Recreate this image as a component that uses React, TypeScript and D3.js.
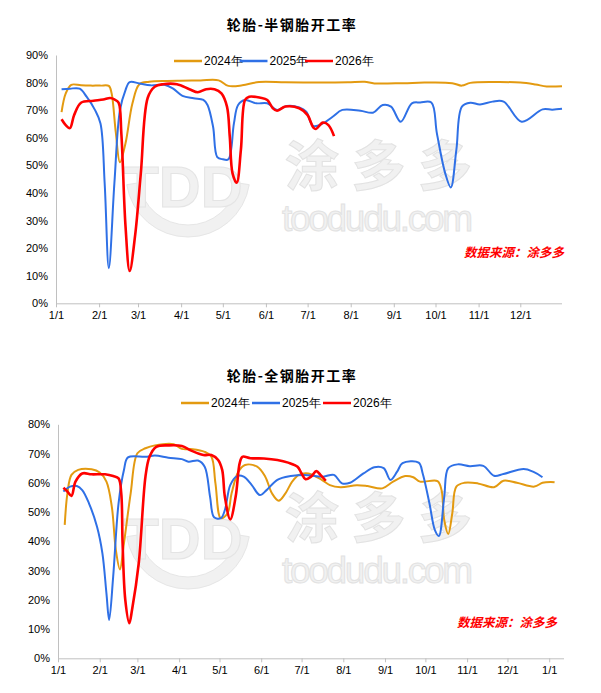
import * as d3 from "d3";
import { useEffect, useRef } from "react";

type Pt = [string, number];

const yearLabels = ["2024年", "2025年", "2026年"];
const lineColors = ["#E39A10", "#2F70E6", "#FF0000"];
const lineWidths = [2, 2, 2.6];

const monthTicks = ["1/1", "2/1", "3/1", "4/1", "5/1", "6/1", "7/1", "8/1", "9/1", "10/1", "11/1", "12/1"];
const monthTicksNextYear = [...monthTicks, "2026/1/1"];

// 半钢胎开工率 (%)
const semi2024: Pt[] = [
    ["1/5", 69.3], ["1/8", 76.1], ["1/12", 79.2], ["1/19", 79.0], ["1/26", 78.9], ["2/2", 78.9],
    ["2/8", 78.8], ["2/10", 76.1], ["2/13", 62], ["2/16", 51.1], ["2/20", 58], ["2/25", 72.5],
    ["3/2", 79.4], ["3/9", 80.3], ["3/22", 80.6], ["3/31", 80.7], ["4/15", 80.8], ["4/28", 80.8],
    ["5/5", 78.8], ["5/15", 79.0], ["5/27", 80.2], ["6/15", 80.1], ["7/10", 80.0], ["7/30", 80.1],
    ["8/11", 80.3], ["8/18", 79.7], ["9/8", 79.8], ["9/23", 80.0], ["10/13", 79.8], ["10/20", 78.9],
    ["10/26", 79.9], ["11/14", 80.2], ["12/1", 80.0], ["12/12", 79.3], ["12/20", 78.6], ["12/31", 78.7],
];
const semi2025: Pt[] = [
    ["1/5", 77.6], ["1/11", 77.8], ["1/18", 77.8], ["1/23", 74.9], ["1/29", 70.1], ["2/2", 65.2],
    ["2/5", 43.6], ["2/8", 12.7], ["2/12", 43.5], ["2/16", 70], ["2/20", 77.3], ["2/23", 80.2],
    ["3/2", 79.7], ["3/10", 79.0], ["3/20", 79.2], ["3/26", 77.9], ["4/2", 75.2], ["4/10", 74.3],
    ["4/17", 73.7], ["4/20", 71.9], ["4/24", 64], ["4/27", 53], ["5/1", 52.2], ["5/5", 52.2],
    ["5/9", 65.2], ["5/12", 71.9], ["5/17", 73.7], ["5/25", 72.5], ["6/2", 72.5], ["6/9", 70.1],
    ["6/16", 71.5], ["6/25", 71.0], ["6/30", 69.5], ["7/5", 64.3], ["7/12", 65.2], ["7/19", 67.6],
    ["7/26", 70.1], ["8/8", 69.8], ["8/17", 69.1], ["8/24", 71.9], ["8/30", 71.3], ["9/6", 65.8],
    ["9/14", 72.5], ["9/20", 72.8], ["9/28", 72.8], ["10/2", 61.6], ["10/8", 47.1], ["10/12", 42.0],
    ["10/16", 55.6], ["10/20", 71.3], ["10/26", 72.7], ["11/2", 72.1], ["11/11", 73.1], ["11/19", 73.1],
    ["12/2", 65.8], ["12/17", 70.3], ["12/24", 70.2], ["12/31", 70.5],
];
const semi2026: Pt[] = [
    ["1/5", 66.7], ["1/8", 64.6], ["1/11", 63.5], ["1/14", 68.2], ["1/19", 72.7], ["1/28", 73.4],
    ["2/4", 73.9], ["2/9", 74.4], ["2/12", 73.9], ["2/15", 72.7], ["2/17", 61.6], ["2/20", 28],
    ["2/23", 11.7], ["2/27", 25], ["3/3", 47], ["3/8", 74.5], ["3/13", 78.5], ["3/19", 79.4],
    ["3/29", 79.4], ["4/7", 77.6], ["4/13", 76.5], ["4/19", 77.6], ["4/25", 77.6], ["4/30", 76.1],
    ["5/4", 71.3], ["5/6", 60.4], ["5/8", 47.1], ["5/11", 43.7], ["5/14", 55.6], ["5/17", 73.7],
    ["5/20", 74.9], ["5/28", 74.5], ["6/2", 73.7], ["6/6", 70.7], ["6/9", 69.8], ["6/15", 71.3],
    ["6/25", 70.7], ["7/1", 68.2], ["7/5", 63.8], ["7/7", 63.2], ["7/12", 65.5], ["7/16", 64.6],
    ["7/20", 60.6],
];

// 全钢胎开工率 (%)
const full2024: Pt[] = [
    ["1/6", 45.6], ["1/8", 56.4], ["1/11", 62.7], ["1/16", 64.4], ["1/26", 64.6], ["2/1", 63.5],
    ["2/6", 60.4], ["2/10", 51.8], ["2/13", 37], ["2/16", 30.4], ["2/19", 39.3], ["2/24", 56.4],
    ["3/1", 70.1], ["3/7", 71.8], ["3/14", 72.8], ["3/28", 73.2], ["4/3", 71.6], ["4/11", 71.5],
    ["4/20", 70.6], ["4/25", 68.9], ["4/28", 59.8], ["5/2", 47.9], ["5/7", 49.6], ["5/10", 56.4],
    ["5/15", 63.8], ["5/20", 66.1], ["5/29", 65.5], ["6/4", 62.1], ["6/9", 56.4], ["6/14", 53.9],
    ["6/19", 56.4], ["6/24", 60.4], ["6/29", 62.7], ["7/6", 63.2], ["7/16", 61], ["7/22", 59.2],
    ["7/30", 58.5], ["8/11", 59.2], ["8/19", 58.9], ["8/30", 58.1], ["9/7", 60.4], ["9/16", 62.3],
    ["9/22", 61.9], ["9/27", 60.4], ["10/10", 60.6], ["10/13", 57.5], ["10/15", 47.3], ["10/18", 42.5],
    ["10/21", 49.6], ["10/24", 58.7], ["10/30", 60], ["11/9", 59.8], ["11/21", 58.5], ["11/28", 60.7],
    ["12/8", 60], ["12/21", 58.7], ["12/27", 60], ["2026/1/2", 60.3], ["2026/1/5", 60.2],
];
const full2025: Pt[] = [
    ["1/5", 57], ["1/10", 58.7], ["1/15", 58.9], ["1/19", 57.5], ["1/24", 53], ["1/30", 45],
    ["2/3", 35.9], ["2/6", 22.2], ["2/8", 13.1], ["2/11", 27.9], ["2/15", 53], ["2/19", 64.4],
    ["2/22", 68.7], ["3/7", 68.9], ["3/14", 69.3], ["3/24", 68.6], ["4/3", 68.1], ["4/8", 67.2],
    ["4/15", 67.6], ["4/20", 65.5], ["4/24", 55.2], ["4/27", 48.2], ["5/2", 47.9], ["5/5", 50.7],
    ["5/9", 59.2], ["5/14", 62.3], ["5/19", 62.1], ["5/25", 59.2], ["5/31", 55.8], ["6/5", 57.5],
    ["6/13", 61], ["6/23", 62.3], ["7/3", 62.7], ["7/17", 62.1], ["7/25", 62.7], ["7/31", 59.8],
    ["8/6", 60], ["8/16", 63.2], ["8/24", 65.3], ["8/31", 65], ["9/5", 61], ["9/10", 63.8],
    ["9/14", 66.7], ["9/26", 66.9], ["9/29", 63.2], ["10/4", 53], ["10/8", 43.9], ["10/11", 41.8],
    ["10/15", 55.2], ["10/18", 65], ["10/25", 66.3], ["11/3", 65.7], ["11/13", 65.8], ["11/21", 62.4],
    ["11/28", 63], ["12/13", 64.7], ["12/20", 63.8], ["12/27", 61.9],
];
const full2026: Pt[] = [
    ["1/5", 58.3], ["1/8", 57], ["1/11", 55.5], ["1/14", 60.4], ["1/19", 63.2], ["1/26", 62.9],
    ["2/5", 62.9], ["2/11", 62.3], ["2/15", 61.5], ["2/17", 56.4], ["2/18", 39.3], ["2/20", 20],
    ["2/23", 12], ["2/25", 16.5], ["3/2", 32.5], ["3/7", 62.1], ["3/10", 68.9], ["3/15", 72.3],
    ["3/24", 72.8], ["4/3", 72.6], ["4/10", 71], ["4/19", 69.5], ["4/25", 69.5], ["4/30", 67.8],
    ["5/3", 64.4], ["5/5", 55.2], ["5/9", 47.5], ["5/13", 55.2], ["5/16", 66.7], ["5/18", 68.9],
    ["5/24", 68.4], ["6/3", 68.3], ["6/13", 67.8], ["6/21", 66.9], ["6/28", 65.5], ["7/1", 63.2],
    ["7/4", 61.2], ["7/8", 62.1], ["7/12", 64], ["7/15", 62.7], ["7/19", 60.7],
];

const toDate = (s: string) => {
    const p = s.split("/").map(Number);
    return p.length === 3 ? new Date(p[0], p[1] - 1, p[2]) : new Date(2025, p[0] - 1, p[1]);
};

interface PanelOpts {
    title: string;
    titleY: number;
    legendX: number;
    legendY: number;
    legendStep: number;
    left: number;
    right: number;
    top: number;
    bottom: number;
    yMax: number;
    xEnd: string;
    ticks: string[];
    series: Pt[][];
    markY: number;
    sourceX: number;
    sourceY: number;
}

function drawWatermark(g: d3.Selection<SVGGElement, unknown, null, undefined>, dy: number) {
    const w = g.append("g").attr("transform", `translate(0,${dy})`);
    w.append("path")
        .attr("d", d3.arc()({ innerRadius: 50, outerRadius: 62, startAngle: Math.PI * 0.55, endAngle: Math.PI * 1.45 }) as string)
        .attr("transform", "translate(188,175)")
        .attr("fill", "#f1f1f1")
        .attr("stroke", "#e6e6e6");
    w.append("text")
        .attr("x", 183)
        .attr("y", 207)
        .attr("text-anchor", "middle")
        .attr("font-family", "Liberation Sans, Arial, sans-serif")
        .attr("font-weight", "bold")
        .attr("font-size", 58)
        .attr("fill", "#f1f1f1")
        .attr("stroke", "#e4e4e4")
        .text("TDD");
    w.append("text")
        .attr("x", 285)
        .attr("y", 186)
        .attr("textLength", 187)
        .attr("font-family", "Noto Sans CJK SC, sans-serif")
        .attr("font-weight", "bold")
        .attr("font-size", 54)
        .attr("fill", "#f1f1f1")
        .attr("stroke", "#e2e2e2")
        .text("涂多多");
    w.append("text")
        .attr("x", 282)
        .attr("y", 231)
        .attr("textLength", 191)
        .attr("font-family", "Liberation Sans, Arial, sans-serif")
        .attr("font-size", 37)
        .attr("fill", "#f1f1f1")
        .attr("stroke", "#e2e2e2")
        .text("toodudu.com");
}

function drawPanel(svg: d3.Selection<SVGSVGElement, unknown, null, undefined>, o: PanelOpts) {
    const x = d3.scaleTime([toDate("1/1"), toDate(o.xEnd)], [o.left, o.right]);
    const y = d3.scaleLinear([0, o.yMax], [o.bottom, o.top]);
    const g = svg.append("g");

    drawWatermark(g, o.markY);

    g.append("text")
        .attr("x", 292)
        .attr("y", o.titleY)
        .attr("text-anchor", "middle")
        .attr("font-family", "Noto Sans CJK SC, sans-serif")
        .attr("font-weight", "bold")
        .attr("font-size", 14)
        .attr("letter-spacing", 1.5)
        .text(o.title);

    const xAxis = g.append("g")
        .attr("transform", `translate(0,${o.bottom})`)
        .call(d3.axisBottom(x)
            .tickValues(o.ticks.map(toDate))
            .tickFormat((d) => d3.timeFormat("%-m/%-d")(d as Date))
            .tickSize(4)
            .tickSizeOuter(0)
            .tickPadding(4));
    xAxis.select(".domain").attr("d", `M${o.left},0.5H${o.right}`);

    const yAxis = g.append("g")
        .attr("transform", `translate(${o.left},0)`)
        .call(d3.axisLeft(y)
            .tickValues(d3.range(0, o.yMax + 1, 10))
            .tickFormat((d) => `${d}%`)
            .tickSize(0)
            .tickPadding(8));

    [xAxis, yAxis].forEach((a) => {
        a.select(".domain").attr("stroke", "#c0c0c0");
        a.selectAll(".tick line").attr("stroke", "#c0c0c0");
        a.selectAll("text")
            .attr("font-family", "Liberation Sans, Arial, sans-serif")
            .attr("font-size", 11)
            .attr("fill", "#000");
    });

    const line = d3.line<Pt>()
        .x((d) => x(toDate(d[0])))
        .y((d) => y(d[1]))
        .curve(d3.curveCatmullRom.alpha(0.5));

    o.series.forEach((s, i) => {
        g.append("path")
            .attr("d", line(s))
            .attr("fill", "none")
            .attr("stroke", lineColors[i])
            .attr("stroke-width", lineWidths[i])
            .attr("stroke-linejoin", "round");
    });

    yearLabels.forEach((label, i) => {
        const lx = o.legendX + i * o.legendStep;
        g.append("line")
            .attr("x1", lx)
            .attr("x2", lx + 28)
            .attr("y1", o.legendY)
            .attr("y2", o.legendY)
            .attr("stroke", lineColors[i])
            .attr("stroke-width", 2.5);
        g.append("text")
            .attr("x", lx + 30)
            .attr("y", o.legendY + 4)
            .attr("font-family", "Liberation Sans, Arial, sans-serif")
            .attr("font-size", 12)
            .text(label);
    });

    g.append("text")
        .attr("x", o.sourceX)
        .attr("y", o.sourceY)
        .attr("text-anchor", "end")
        .attr("font-family", "Noto Sans CJK SC, sans-serif")
        .attr("font-weight", "bold")
        .attr("font-style", "italic")
        .attr("font-size", 12.5)
        .attr("fill", "#FF0000")
        .text("数据来源：涂多多");
}

export default function App() {
    const ref = useRef<SVGSVGElement | null>(null);

    useEffect(() => {
        const svg = d3.select(ref.current as SVGSVGElement);
        svg.selectAll("*").remove();
        svg.append("rect").attr("width", 601).attr("height", 693).attr("fill", "#fff");

        drawPanel(svg, {
            title: "轮胎-半钢胎开工率",
            titleY: 30,
            legendX: 174,
            legendY: 61,
            legendStep: 65.5,
            left: 56,
            right: 562,
            top: 55,
            bottom: 303.3,
            yMax: 90,
            xEnd: "12/31",
            ticks: monthTicks,
            series: [semi2024, semi2025, semi2026],
            markY: 0,
            sourceX: 564,
            sourceY: 257,
        });

        drawPanel(svg, {
            title: "轮胎-全钢胎开工率",
            titleY: 381,
            legendX: 181,
            legendY: 403,
            legendStep: 71,
            left: 58,
            right: 564,
            top: 424.3,
            bottom: 658.3,
            yMax: 80,
            xEnd: "2026/1/12",
            ticks: monthTicksNextYear,
            series: [full2024, full2025, full2026],
            markY: 352,
            sourceX: 557,
            sourceY: 627,
        });
    }, []);

    return (
        <svg
            ref={ref}
            width={601}
            height={693}
            style={{ position: "absolute", left: 0, top: 0 }}
        />
    );
}
